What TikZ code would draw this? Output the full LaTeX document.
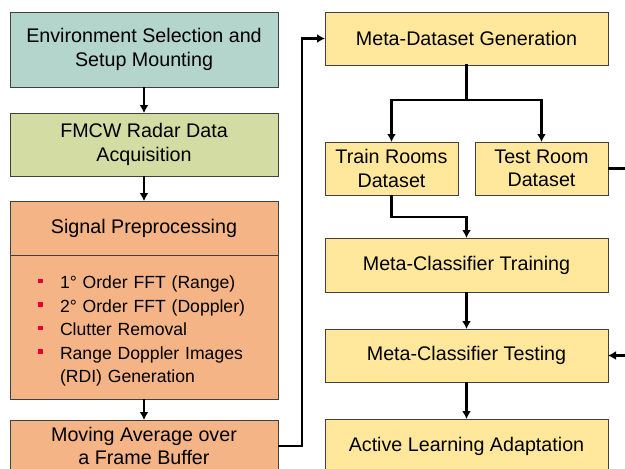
\documentclass[tikz,border=0pt]{standalone}
\usepackage{fontspec}
\setmainfont{Liberation Sans}
\usetikzlibrary{
        positioning,
        arrows.meta
    }
\definecolor{envteal}{RGB}{180,213,204}
\definecolor{fmcwgreen}{RGB}{211,221,163}
\definecolor{sigorange}{RGB}{244,180,134}
\definecolor{metayellow}{RGB}{255,232,155}
\definecolor{bulletred}{RGB}{228,0,58}
\newcommand{\sqbullet}{\makebox[22pt][l]{\textcolor{bulletred}{\rule[5.5pt]{4.5pt}{4.5pt}}}}

\begin{document}
\begin{tikzpicture}
[x=1pt, y=1pt,
baseshape/.style={rectangle, draw=black!75, line width=1pt, inner sep=0pt, outer sep=0pt, align=center, font=\fontsize{19.7}{23.6}\selectfont},
leftbox/.style={baseshape, minimum width=268pt},
rightbox/.style={baseshape, minimum width=283pt, fill=metayellow},
halfbox/.style={baseshape, minimum width=133pt, minimum height=53pt, fill=metayellow},
arrow/.style={line width=2.4pt, -{Latex[length=8pt,width=9pt]}},
line/.style={line width=2.4pt, line cap=rect},
node distance=26pt,]
\clip (0,0) rectangle (625,-469);

% left column
\node (env) [leftbox, minimum height=75pt, fill=envteal] at (144,-49.5) {Environment Selection and\\Setup Mounting};
\node (fmcw) [leftbox, minimum height=63pt, fill=fmcwgreen, below=of env] {FMCW Radar Data\\Acquisition};
\node (sig) [leftbox, minimum height=54pt, fill=sigorange, below=25pt of fmcw] {Signal Preprocessing};
\node (steps) [leftbox, minimum height=144pt, fill=sigorange, below=0pt of sig, align=left, text width=212pt, font=\fontsize{17.6}{23.5}\selectfont]
{\rule{0pt}{21pt}\sqbullet 1° Order FFT (Range)\\
\sqbullet 2° Order FFT (Doppler)\\
\sqbullet Clutter Removal\\
\sqbullet Range Doppler Images\\
\hspace*{22pt}(RDI) Generation};
\node (mavg) [leftbox, minimum height=52pt, fill=sigorange, below=21pt of steps, font=\fontsize{19.7}{22.5}\selectfont] {Moving Average over\\a Frame Buffer};

% right column
\node (meta) [rightbox, minimum height=53pt] at (466.5,-38.5) {Meta-Dataset Generation};
\node (train) [halfbox, below right=77pt and 0pt of meta.south west] {Train Rooms\\Dataset};
\node (test) [halfbox, below left=77pt and 0pt of meta.south east] {Test Room\\Dataset};
\node (training) [rightbox, minimum height=54pt] at (466.5,-265) {Meta-Classifier Training};
\node (testing) [rightbox, minimum height=53pt, below=37pt of training] {Meta-Classifier Testing};
\node (active) [rightbox, minimum height=54pt, below=37pt of testing] {Active Learning Adaptation};

\draw [arrow] (env) -- (fmcw);
\draw [arrow] (fmcw) -- (sig);
\draw [arrow] (steps) -- (mavg);
\draw [arrow] (mavg.east) -- ++(24,0) |- (meta.west);

\draw [line] (meta.south) -- ++(0,-35) coordinate (split);
\draw [arrow] (split) -| (train.north);
\draw [arrow] (split) -| (test.north);
\draw [arrow] (train.south) -- ++(0,-22) -| (training.north);
\draw [arrow] (training) -- (testing);
\draw [arrow] (testing) -- (active);
\draw [arrow] (test.east) -- ++(30,0) |- (testing.east);

\end{tikzpicture}
\end{document}
